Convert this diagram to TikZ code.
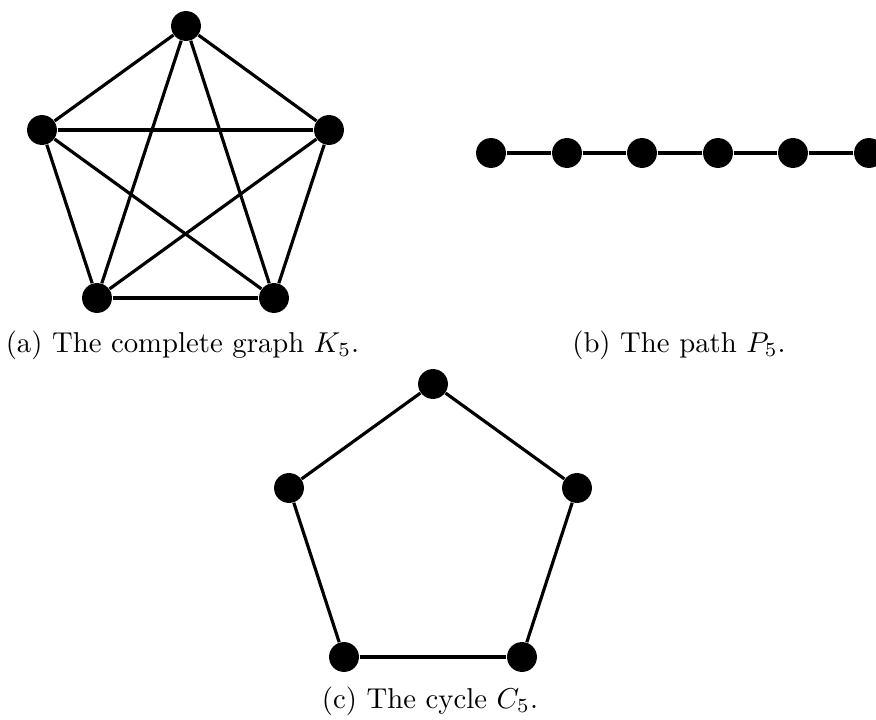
\documentclass[tikz,border=0pt]{standalone}
\begin{document}
\begin{tikzpicture}[x=0.348pt,y=-0.348pt,
  vtx/.style={circle,fill=black,inner sep=0pt,minimum size=10.4pt},
  edge/.style={line width=1.1pt},
  captxt/.style={anchor=base,inner sep=0pt}]
\useasboundingbox (0,0) rectangle (876,720);
% K5
\node[vtx] (a1) at (186,26) {};
\node[vtx] (a2) at (42,130) {};
\node[vtx] (a3) at (329,130) {};
\node[vtx] (a4) at (97,298) {};
\node[vtx] (a5) at (274,298) {};
\foreach \u/\v in {a1/a2,a1/a3,a1/a4,a1/a5,a2/a3,a2/a4,a2/a5,a3/a4,a3/a5,a4/a5}
  \draw[edge] (\u) -- (\v);
\node[captxt] (capa) at (182.5,352) {(a) The complete graph $K_5$.};
% P5
\node[vtx] (p1) at (491,153) {};
\node[vtx] (p2) at (567,153) {};
\node[vtx] (p3) at (642,153) {};
\node[vtx] (p4) at (718,153) {};
\node[vtx] (p5) at (793,153) {};
\node[vtx] (p6) at (869,153) {};
\foreach \u/\v in {p1/p2,p2/p3,p3/p4,p4/p5,p5/p6}
  \draw[edge] (\u) -- (\v);
\node[captxt] (capb) at (679,352) {(b) The path $P_5$.};
% C5
\node[vtx] (c1) at (433,384) {};
\node[vtx] (c2) at (289,488) {};
\node[vtx] (c3) at (577,488) {};
\node[vtx] (c4) at (344,657) {};
\node[vtx] (c5) at (522,657) {};
\foreach \u/\v in {c1/c2,c2/c4,c4/c5,c5/c3,c3/c1}
  \draw[edge] (\u) -- (\v);
\node[captxt] (capc) at (430,708) {(c) The cycle $C_5$.};
\end{tikzpicture}
\end{document}
